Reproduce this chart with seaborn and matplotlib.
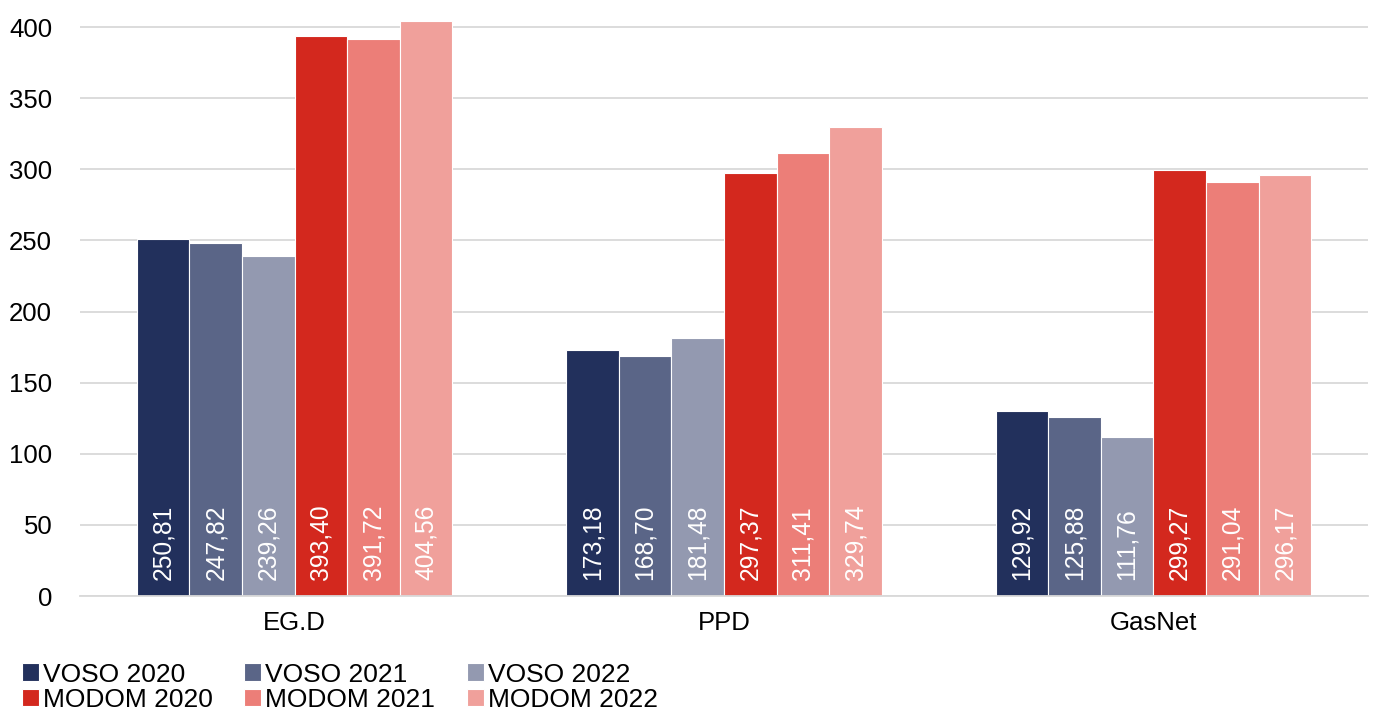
import matplotlib
matplotlib.use("Agg")
import matplotlib.pyplot as plt
import seaborn as sns
import pandas as pd

# values
categories = ["EG.D", "PPD", "GasNet"]
series = ["VOSO 2020", "VOSO 2021", "VOSO 2022", "MODOM 2020", "MODOM 2021", "MODOM 2022"]
voso_2020 = [250.81, 173.18, 129.92]
voso_2021 = [247.82, 168.70, 125.88]
voso_2022 = [239.26, 181.48, 111.76]
modom_2020 = [393.40, 297.37, 299.27]
modom_2021 = [391.72, 311.41, 291.04]
modom_2022 = [404.56, 329.74, 296.17]
colors = ["#22305C", "#5A6587", "#9399B0", "#D3281E", "#EC7E78", "#F0A09B"]

values = [voso_2020, voso_2021, voso_2022, modom_2020, modom_2021, modom_2022]
rows = []
for s, vals in zip(series, values):
    for c, v in zip(categories, vals):
        rows.append({"category": c, "series": s, "value": v})
df = pd.DataFrame(rows)

sns.set_style("white")
plt.rcParams["font.family"] = ["Liberation Sans", "DejaVu Sans"]

fig = plt.figure(figsize=(13.75, 7.11), dpi=100)
ax = fig.add_axes([80 / 1375, 115 / 711, 1288 / 1375, 596 / 711])

sns.barplot(data=df, x="category", y="value", hue="series", order=categories,
            hue_order=series, palette=colors, width=0.735, gap=0,
            edgecolor="white", linewidth=0.8, saturation=1, ax=ax)

# rotated value labels at the bottom of each bar
for cont, vals in zip(ax.containers, values):
    for bar, v in zip(cont, vals):
        ax.text(bar.get_x() + bar.get_width() / 2, 11, f"{v:.2f}".replace(".", ","),
                rotation=90, ha="center", va="bottom", color="white", fontsize=17.7)

ax.set_ylim(0, 419)
ax.set_yticks(range(0, 401, 50))
ax.set_xlim(-0.5, 2.5)
ax.grid(axis="y", color="#D9D9D9", linewidth=1.3)
ax.set_axisbelow(True)
for side in ["top", "right", "left"]:
    ax.spines[side].set_visible(False)
ax.spines["bottom"].set_color("#D9D9D9")
ax.spines["bottom"].set_linewidth(1.3)
ax.tick_params(axis="both", length=0, labelsize=18.5, colors="black")
ax.tick_params(axis="x", pad=11)
ax.tick_params(axis="y", pad=20)
ax.set_xlabel("")
ax.set_ylabel("")

handles, labels = ax.get_legend_handles_labels()
ax.get_legend().remove()
order = [0, 3, 1, 4, 2, 5]
fig.legend([handles[i] for i in order], [labels[i] for i in order],
           ncol=3, loc="lower left", bbox_to_anchor=(0.008, -0.016), frameon=False,
           fontsize=19, labelcolor="black", handlelength=0.65, handleheight=0.65,
           handletextpad=0.15, columnspacing=1.2, labelspacing=0.05, borderaxespad=0)

fig.savefig("out.png", dpi=100)
